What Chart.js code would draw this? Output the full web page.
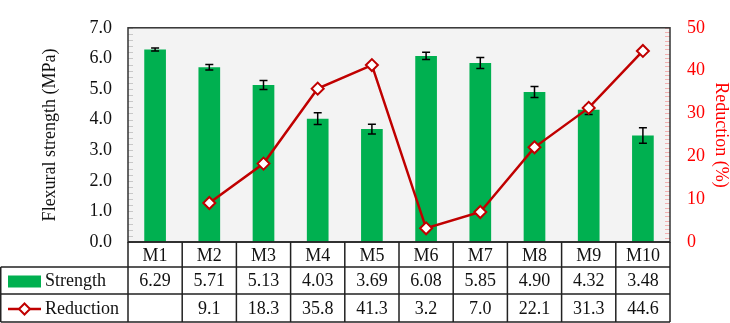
<!DOCTYPE html>
<html>
<head>
<meta charset="utf-8">
<script src="https://cdn.jsdelivr.net/npm/chart.js@4.4.1/dist/chart.umd.min.js"></script>
<style>
  html, body { margin: 0; padding: 0; background: #fff; }
  #wrap { width: 730px; height: 323px; }
</style>
</head>
<body>
<div id="wrap"><canvas id="c" width="730" height="323"></canvas></div>
<script>
// données
const mixes     = ['M1', 'M2', 'M3', 'M4', 'M5', 'M6', 'M7', 'M8', 'M9', 'M10'];
const strength  = [6.29, 5.71, 5.13, 4.03, 3.69, 6.08, 5.85, 4.90, 4.32, 3.48];
const strengthErr = [0.05, 0.09, 0.15, 0.19, 0.16, 0.12, 0.18, 0.18, 0.15, 0.25];
const reduction = [null, 9.1, 18.3, 35.8, 41.3, 3.2, 7.0, 22.1, 31.3, 44.6];

const SERIF = "'Liberation Serif', 'Times New Roman', serif";
const FS = 18;
const GREEN = '#00B050';
const RED_LINE = '#C00000';
const RED = '#FF0000';
const ROW1 = 267, ROW2 = 294, ROW3 = 322;

// fond gris, bordure, petites graduations, barres d'erreur, tableau de données
const decor = {
  id: 'decor',
  beforeDatasetsDraw(chart) {
    const { ctx, chartArea: a, scales } = chart;
    ctx.save();
    ctx.fillStyle = '#F3F3F3';
    ctx.fillRect(a.left, a.top, a.right - a.left, a.bottom - a.top);

    // graduations mineures (intérieur)
    ctx.lineWidth = 1;
    ctx.strokeStyle = '#C8C8C8';
    for (let v = 0; v <= 7.001; v += 0.2) {
      const y = Math.round(scales.y.getPixelForValue(v)) + 0.5;
      ctx.beginPath(); ctx.moveTo(a.left, y); ctx.lineTo(a.left + 5, y); ctx.stroke();
    }
    ctx.strokeStyle = '#F4B0B0';
    for (let v = 0; v <= 50; v += 1) {
      const y = Math.round(scales.y2.getPixelForValue(v)) + 0.5;
      ctx.beginPath(); ctx.moveTo(a.right, y); ctx.lineTo(a.right - 5, y); ctx.stroke();
    }
    ctx.restore();
  },
  afterDatasetDraw(chart, args) {
    if (args.index !== 0) return;
    const { ctx, scales } = chart;
    const meta = chart.getDatasetMeta(0);
    ctx.save();
    ctx.strokeStyle = '#000';
    ctx.lineWidth = 1.5;
    meta.data.forEach((bar, i) => {
      const yHi = scales.y.getPixelForValue(strength[i] + strengthErr[i]);
      const yLo = scales.y.getPixelForValue(strength[i] - strengthErr[i]);
      const x = bar.x;
      ctx.beginPath();
      ctx.moveTo(x, yHi); ctx.lineTo(x, yLo);
      ctx.moveTo(x - 4, yHi); ctx.lineTo(x + 4, yHi);
      ctx.moveTo(x - 4, yLo); ctx.lineTo(x + 4, yLo);
      ctx.stroke();
    });
    ctx.restore();
  },
  afterDraw(chart) {
    const { ctx, chartArea: a, scales } = chart;
    const x = scales.x;
    ctx.save();
    // cadre du graphique
    ctx.strokeStyle = '#333';
    ctx.lineWidth = 1.5;
    ctx.strokeRect(a.left, a.top, a.right - a.left, a.bottom - a.top);

    // tableau
    ctx.strokeStyle = '#222';
    ctx.lineWidth = 1.5;
    ctx.beginPath();
    ctx.moveTo(a.left, a.bottom); ctx.lineTo(a.right, a.bottom);
    [ROW1, ROW2, ROW3].forEach(y => { ctx.moveTo(0.75, y); ctx.lineTo(a.right, y); });
    ctx.moveTo(0.75, ROW1); ctx.lineTo(0.75, ROW3);
    const half = (x.getPixelForValue(1) - x.getPixelForValue(0)) / 2;
    for (let i = 0; i <= mixes.length; i++) {
      const xp = i < mixes.length ? x.getPixelForValue(i) - half : a.right;
      ctx.moveTo(xp, a.bottom); ctx.lineTo(xp, ROW3);
    }
    ctx.stroke();

    ctx.font = `${FS}px ${SERIF}`;
    ctx.fillStyle = '#111';
    ctx.textAlign = 'center';
    ctx.textBaseline = 'middle';
    const yS = (ROW1 + ROW2) / 2 + 1, yR = (ROW2 + ROW3) / 2 + 1;
    mixes.forEach((m, i) => {
      const xp = x.getPixelForValue(i);
      ctx.fillText(strength[i].toFixed(2), xp, yS);
      if (reduction[i] != null) ctx.fillText(reduction[i].toFixed(1), xp, yR);
    });

    // légende dans le tableau
    ctx.textAlign = 'left';
    ctx.fillText('Strength', 45, yS);
    ctx.fillText('Reduction', 45, yR);
    ctx.fillStyle = GREEN;
    ctx.fillRect(8, yS - 6, 33, 12);
    ctx.strokeStyle = RED_LINE;
    ctx.lineWidth = 2.5;
    ctx.beginPath(); ctx.moveTo(8, yR); ctx.lineTo(41, yR); ctx.stroke();
    ctx.fillStyle = '#fff';
    ctx.lineWidth = 2;
    ctx.beginPath();
    ctx.moveTo(24.5, yR - 5.5); ctx.lineTo(30, yR); ctx.lineTo(24.5, yR + 5.5); ctx.lineTo(19, yR);
    ctx.closePath(); ctx.fill(); ctx.stroke();
    ctx.restore();
  },
};

new Chart(document.getElementById('c'), {
  data: {
    labels: mixes,
    datasets: [{
      type: 'bar',
      label: 'Strength',
      data: strength,
      backgroundColor: GREEN,
      yAxisID: 'y',
      categoryPercentage: 1,
      barPercentage: 0.4,
      order: 2,
    }, {
      type: 'line',
      label: 'Reduction',
      data: reduction,
      yAxisID: 'y2',
      borderColor: RED_LINE,
      borderWidth: 2.5,
      pointStyle: 'rectRot',
      pointRadius: 6,
      pointBorderWidth: 2,
      pointBackgroundColor: '#fff',
      pointBorderColor: RED_LINE,
      tension: 0,
      order: 1,
    }],
  },
  options: {
    responsive: false, animation: false,
    layout: { padding: { top: 4, bottom: 56, left: 0, right: 0 } },
    plugins: { legend: { display: false }, tooltip: { enabled: false } },
    scales: {
      x: {
        grid: { display: false, drawTicks: false },
        border: { display: false },
        ticks: { color: '#111', font: { family: SERIF, size: FS }, padding: 3, maxRotation: 0 },
        afterFit: s => { s.height = 25; },
      },
      y: {
        position: 'left', min: 0, max: 7,
        grid: { display: false, drawTicks: false },
        border: { display: false },
        ticks: { stepSize: 1, color: '#111', padding: 16, font: { family: SERIF, size: FS },
                 callback: v => v.toFixed(1) },
        title: { display: true, text: 'Flexural strength (MPa)', color: '#111',
                 font: { family: SERIF, size: FS }, padding: { top: 39, bottom: 0 } },
        afterFit: s => { s.width = 128; },
      },
      y2: {
        position: 'right', min: 0, max: 50,
        grid: { display: false, drawTicks: false },
        border: { display: false },
        ticks: { stepSize: 5, color: RED, padding: 17, font: { family: SERIF, size: FS } },
        title: { display: true, text: 'Reduction (%)', color: RED,
                 font: { family: SERIF, size: FS }, padding: { top: -2, bottom: 0 } },
        afterFit: s => { s.width = 60; },
      },
    },
  },
  plugins: [decor],
});
</script>
</body>
</html>
